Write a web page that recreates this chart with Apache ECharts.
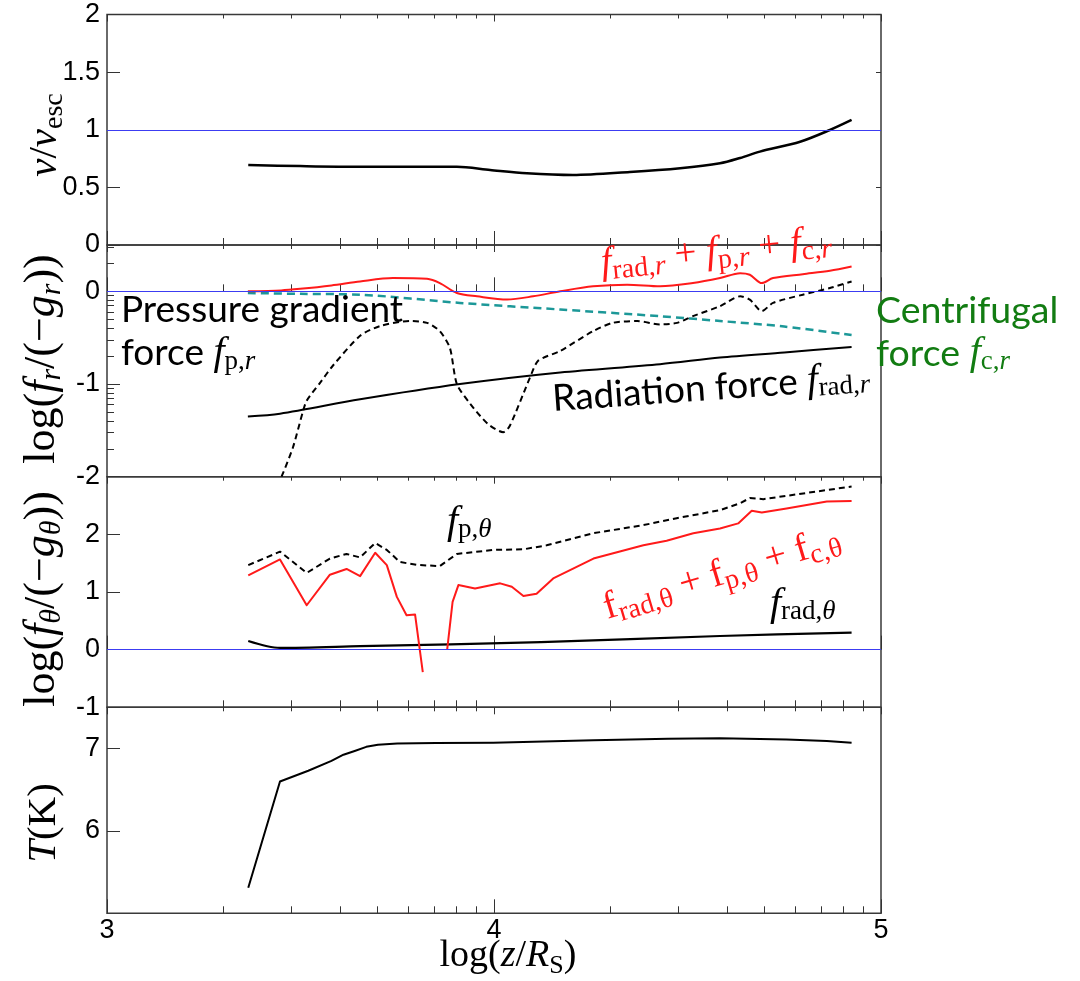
<!DOCTYPE html>
<html>
<head>
<meta charset="utf-8">
<script src="https://cdn.jsdelivr.net/npm/echarts@6/dist/echarts.min.js"></script>
<style>
  html, body { margin: 0; padding: 0; background: #fff; }
  #chart { width: 1080px; height: 981px; }
</style>
</head>
<body>
<div id="chart"></div>
<script>
// ---------- data ----------
// Panel 1: v / v_esc along the jet
const velX = [3.365, 3.499, 3.654, 3.904, 3.990, 4.085, 4.204, 4.351, 4.481, 4.584, 4.636, 4.687, 4.791, 4.868, 4.924];
const velY = [0.694, 0.685, 0.679, 0.679, 0.651, 0.622, 0.607, 0.633, 0.666, 0.709, 0.755, 0.810, 0.896, 0.998, 1.085];

// Panel 2: radial forces, log(f_r / (-g_r))
const totRX = [3.364, 3.45, 3.499, 3.58, 3.654, 3.739, 3.827, 3.860, 3.904, 3.956, 4.034, 4.101, 4.171, 4.256, 4.344, 4.429, 4.514, 4.584, 4.636, 4.661, 4.692, 4.721, 4.798, 4.868, 4.924];
const totRY = [0.0, 0.01, 0.027, 0.064, 0.107, 0.143, 0.135, 0.089, -0.018, -0.054, -0.089, -0.054, 0.0, 0.054, 0.072, 0.054, 0.089, 0.143, 0.196, 0.179, 0.089, 0.143, 0.185, 0.222, 0.268];
const cenRX = [3.364, 3.5, 3.654, 3.912, 4.171, 4.429, 4.584, 4.75, 4.924];
const cenRY = [-0.018, -0.027, -0.036, -0.125, -0.196, -0.268, -0.32, -0.38, -0.472];
const radRX = [3.364, 3.447, 3.654, 3.912, 4.171, 4.429, 4.584, 4.75, 4.924];
const radRY = [-1.35, -1.32, -1.165, -1.0, -0.875, -0.786, -0.715, -0.66, -0.60];
const preRX = [3.451, 3.48, 3.507, 3.516, 3.55, 3.584, 3.654, 3.705, 3.783, 3.827, 3.860, 3.886, 3.904, 3.938, 3.984, 4.024, 4.041, 4.093, 4.114, 4.171, 4.256, 4.307, 4.370, 4.429, 4.473, 4.514, 4.584, 4.636, 4.661, 4.692, 4.721, 4.798, 4.868, 4.924];
const preRY = [-2.0, -1.69, -1.286, -1.18, -0.99, -0.80, -0.48, -0.375, -0.32, -0.34, -0.43, -0.61, -1.0, -1.21, -1.43, -1.52, -1.45, -0.93, -0.75, -0.643, -0.43, -0.34, -0.32, -0.357, -0.34, -0.268, -0.16, -0.054, -0.09, -0.214, -0.125, -0.036, 0.036, 0.107];

// Panel 3: polar forces, log(f_theta / (-g_theta)); null marks the break in the total
const preTX = [3.365, 3.447, 3.516, 3.576, 3.619, 3.654, 3.693, 3.723, 3.757, 3.800, 3.860, 3.904, 3.998, 4.076, 4.136, 4.257, 4.386, 4.472, 4.584, 4.636, 4.661, 4.696, 4.799, 4.924];
const preTY = [1.466, 1.70, 1.33, 1.58, 1.66, 1.60, 1.85, 1.73, 1.52, 1.47, 1.45, 1.66, 1.73, 1.74, 1.81, 2.02, 2.16, 2.28, 2.42, 2.54, 2.63, 2.61, 2.71, 2.83];
const totTX = [3.365, 3.447, 3.516, 3.576, 3.619, 3.654, 3.693, 3.723, 3.749, 3.774, 3.796, 3.816, 3.85, 3.879, 3.893, 3.908, 3.951, 4.016, 4.046, 4.076, 4.110, 4.153, 4.257, 4.386, 4.446, 4.515, 4.584, 4.631, 4.666, 4.692, 4.756, 4.860, 4.924];
const totTY = [1.29, 1.565, 0.77, 1.30, 1.40, 1.275, 1.68, 1.466, 0.915, 0.597, 0.61, -0.39, null, 0.0, 0.83, 1.12, 1.06, 1.15, 1.09, 0.93, 0.97, 1.235, 1.58, 1.81, 1.89, 2.02, 2.10, 2.19, 2.41, 2.38, 2.45, 2.57, 2.58];
const radTX = [3.365, 3.447, 3.654, 4.121, 4.584, 4.924];
const radTY = [0.15, 0.03, 0.06, 0.13, 0.237, 0.296];

// Panel 4: log temperature
const tempX = [3.365, 3.447, 3.52, 3.58, 3.611, 3.64, 3.67, 3.70, 3.75, 3.85, 3.998, 4.257, 4.45, 4.584, 4.756, 4.860, 4.924];
const tempY = [5.31, 6.60, 6.73, 6.85, 6.925, 6.97, 7.02, 7.045, 7.06, 7.068, 7.07, 7.10, 7.117, 7.125, 7.11, 7.09, 7.07];

// Axis ranges of the four stacked panels
const yMin = [0, -2, -1, 5];
const yMax = [2, 0.5, 3, 7.5];
const yStep = [0.5, 1, 1, 1];

// ---------- styling ----------
const SERIF = 'Liberation Serif';
const SANS = 'Liberation Sans';
const ANNO = 'Lato';
const RED = '#ff1a1a';
const TEAL = '#1c9898';
const GREEN = '#127c12';
const BLUE = '#3c3cf2';
const FRAME = '#3a3a3a';
const TICK = '#333';

const gridBoxes = [
  { top: 14.5, height: 230.5 },
  { top: 245, height: 231.7 },
  { top: 476.7, height: 230.6 },
  { top: 707.3, height: 206 }
];
const LEFT = 107, WIDTH = 774;

// logarithmic minor tick positions
const xMinorTicks = [];
[3, 4].forEach(d => { for (let k = 2; k <= 9; k++) xMinorTicks.push(d + Math.log10(k)); });
const fMinorTicks = [];
[-2, -1, 0].forEach(d => { for (let k = 2; k <= 9; k++) { const v = d + Math.log10(k); if (v < 0.5) fMinorTicks.push(v); } });

function pairs(xs, ys) {
  return xs.map((x, i) => [x, ys[i] === null ? '-' : ys[i]]);
}

// ---------- axes ----------
const grid = gridBoxes.map(b => ({
  left: LEFT, width: WIDTH, top: b.top, height: b.height,
  show: true, borderColor: FRAME, borderWidth: 1.5, backgroundColor: 'transparent',
  containLabel: false, outerBoundsMode: 'none'
}));

const xAxis = [];
const mainX = [];
gridBoxes.forEach((b, i) => {
  const last = i === gridBoxes.length - 1;
  const base = { gridIndex: i, type: 'value', min: 3, max: 5, axisLine: { show: false }, splitLine: { show: false } };
  mainX.push(xAxis.length);
  xAxis.push(Object.assign({}, base, {
    position: 'bottom', interval: 1,
    axisTick: { show: true, inside: true, length: 14, lineStyle: { color: TICK, width: 1 } },
    axisLabel: { show: last, margin: 4, color: '#000', fontFamily: SANS, fontSize: 27 }
  }));
  xAxis.push(Object.assign({}, base, {
    position: 'bottom',
    axisTick: { show: true, inside: true, length: 7, customValues: xMinorTicks, lineStyle: { color: TICK, width: 1 } },
    axisLabel: { show: false }
  }));
  xAxis.push(Object.assign({}, base, {
    position: 'top', interval: 1,
    axisTick: { show: true, inside: true, length: 7, lineStyle: { color: TICK, width: 1 } },
    axisLabel: { show: false }
  }));
  xAxis.push(Object.assign({}, base, {
    position: 'top',
    axisTick: { show: true, inside: true, length: 4, customValues: xMinorTicks, lineStyle: { color: TICK, width: 1 } },
    axisLabel: { show: false }
  }));
});

const yAxis = [];
const mainY = [];
gridBoxes.forEach((b, i) => {
  mainY.push(yAxis.length);
  yAxis.push({
    gridIndex: i, type: 'value', position: 'left',
    min: yMin[i], max: yMax[i], interval: yStep[i],
    axisLine: { show: false }, splitLine: { show: false },
    axisTick: { show: true, inside: true, length: 13, lineStyle: { color: TICK, width: 1 } },
    axisLabel: {
      margin: 7, color: '#000', fontFamily: SANS, fontSize: 27,
      showMinLabel: i !== 3, showMaxLabel: i === 0
    }
  });
  if (i === 0) {
    yAxis.push({
      gridIndex: i, type: 'value', position: 'right',
      min: yMin[i], max: yMax[i], interval: yStep[i],
      axisLine: { show: false }, splitLine: { show: false },
      axisTick: { show: true, inside: true, length: 5, lineStyle: { color: TICK, width: 1 } },
      axisLabel: { show: false }
    });
  }
  if (i === 1) {
    yAxis.push({
      gridIndex: i, type: 'value', position: 'left',
      min: yMin[i], max: yMax[i],
      axisLine: { show: false }, splitLine: { show: false },
      axisTick: { show: true, inside: true, length: 7, customValues: fMinorTicks, lineStyle: { color: TICK, width: 1 } },
      axisLabel: { show: false }
    });
  }
});

// ---------- series ----------
function line(panel, xs, ys, color, width, dash, smooth, z) {
  return {
    type: 'line', xAxisIndex: mainX[panel], yAxisIndex: mainY[panel],
    data: pairs(xs, ys), showSymbol: false, symbol: 'none', smooth: smooth || false,
    connectNulls: false, clip: true, z: z || 2,
    lineStyle: { color: color, width: width, type: dash || 'solid', cap: 'butt', join: 'round' },
    emphasis: { disabled: true }
  };
}
function refLine(value) {
  return {
    silent: true, symbol: 'none', animation: false,
    label: { show: false },
    lineStyle: { color: BLUE, width: 1, type: 'solid' },
    data: [{ yAxis: value }]
  };
}

const s1 = line(0, velX, velY, '#000', 2.5, null, 0.3, 3);
s1.markLine = refLine(1);
const s2a = line(1, totRX, totRY, RED, 2, null, 0.3, 4);
s2a.markLine = refLine(0);
const s2b = line(1, cenRX, cenRY, TEAL, 2.5, [8, 5], 0.3, 3);
const s2c = line(1, radRX, radRY, '#000', 2, null, 0.3, 3);
const s2d = line(1, preRX, preRY, '#000', 2, [6, 4], 0.25, 3);
const s3a = line(2, preTX, preTY, '#000', 2, [6, 4], false, 3);
const s3b = line(2, totTX, totTY, RED, 2, null, false, 4);
s3b.markLine = refLine(0);
const s3c = line(2, radTX, radTY, '#000', 2.2, null, 0.3, 3);
const s4 = line(3, tempX, tempY, '#000', 2, null, false, 3);

// ---------- text ----------
function mathRich(color, size, sub, lh) {
  return {
    n: { fontFamily: SERIF, fontSize: size, lineHeight: lh, verticalAlign: 'middle', fill: color },
    i: { fontFamily: SERIF, fontSize: size, fontStyle: 'italic', lineHeight: lh, verticalAlign: 'middle', fill: color },
    s: { fontFamily: SERIF, fontSize: sub, lineHeight: Math.round(sub * 0.85), verticalAlign: 'bottom', fill: color },
    si: { fontFamily: SERIF, fontSize: sub, fontStyle: 'italic', lineHeight: Math.round(sub * 0.85), verticalAlign: 'bottom', fill: color },
    a: { fontFamily: ANNO, fontSize: 37, lineHeight: lh, verticalAlign: 'middle', fill: color },
    g: { fontFamily: ANNO, fontSize: 37.5, lineHeight: lh, verticalAlign: 'middle', fill: color }
  };
}
function textEl(x, y, text, rich, color, opts) {
  const o = opts || {};
  return {
    type: 'text', x: x, y: y, rotation: o.rotation || 0, silent: true, z: 100,
    style: {
      text: text, rich: rich, fill: color,
      align: o.align || 'center', verticalAlign: o.valign || 'middle',
      textAlign: o.align || 'center', textVerticalAlign: o.valign || 'middle'
    }
  };
}

const nameRich = mathRich('#000', 41, 28, 48);
const logNameRich = mathRich('#000', 44, 30, 50);
const xNameRich = mathRich('#000', 38, 26, 46);
const blackRich = mathRich('#000', 40, 27, 43);
const redRich = mathRich(RED, 39, 28, 46);
const greenRich = mathRich(GREEN, 40, 27, 43);
const V = Math.PI / 2;

const graphic = [
  // axis titles
  textEl(45, 135, '{i|v}{n|/}{i|v}{s|esc}', nameRich, '#000', { rotation: V }),
  textEl(42, 359, '{n|log(}{i|f}{si|r}{n|/(−}{i|g}{si|r}{n|))}', logNameRich, '#000', { rotation: V }),
  textEl(42, 599, '{n|log(}{i|f}{si|θ}{n|/(−}{i|g}{si|θ}{n|))}', logNameRich, '#000', { rotation: V }),
  textEl(44, 823, '{i|T}{n|(K)}', nameRich, '#000', { rotation: V }),
  textEl(508, 956, '{n|log(}{i|z}{n|/}{i|R}{s|S}{n|)}', xNameRich, '#000'),
  // panel 2 annotations
  textEl(121, 289, '{a|Pressure gradient}\n{a|force }{i|f}{s|p,}{si|r}', blackRich, '#000', { align: 'left', valign: 'top' }),
  textEl(876, 289, '{g|Centrifugal}\n{g|force }{i|f}{s|c,}{si|r}', greenRich, GREEN, { align: 'left', valign: 'top' }),
  textEl(711, 388, '{a|Radiation force }{i|f}{s|rad,}{si|r}', blackRich, '#000', { rotation: 0.07 }),
  textEl(716, 252, '{i|f}{s|rad,}{si|r}{n| + }{i|f}{s|p,}{si|r}{n| + }{i|f}{s|c,}{si|r}', redRich, RED, { rotation: 0.1 }),
  // panel 3 annotations
  textEl(722, 574, '{n|f}{s|rad,θ}{n| + }{n|f}{s|p,θ}{n| + }{n|f}{s|c,θ}', redRich, RED, { rotation: 0.29 }),
  textEl(447, 522, '{i|f}{s|p,}{si|θ}', blackRich, '#000', { align: 'left' }),
  textEl(770, 604, '{i|f}{s|rad,}{si|θ}', blackRich, '#000', { align: 'left' })
];

const chart = echarts.init(document.getElementById('chart'), null, { renderer: 'canvas' });
chart.setOption({
  animation: false,
  backgroundColor: '#fff',
  textStyle: { fontFamily: SANS },
  grid: grid,
  xAxis: xAxis,
  yAxis: yAxis,
  series: [s1, s2a, s2b, s2c, s2d, s3a, s3b, s3c, s4],
  graphic: graphic
});
</script>
</body>
</html>
